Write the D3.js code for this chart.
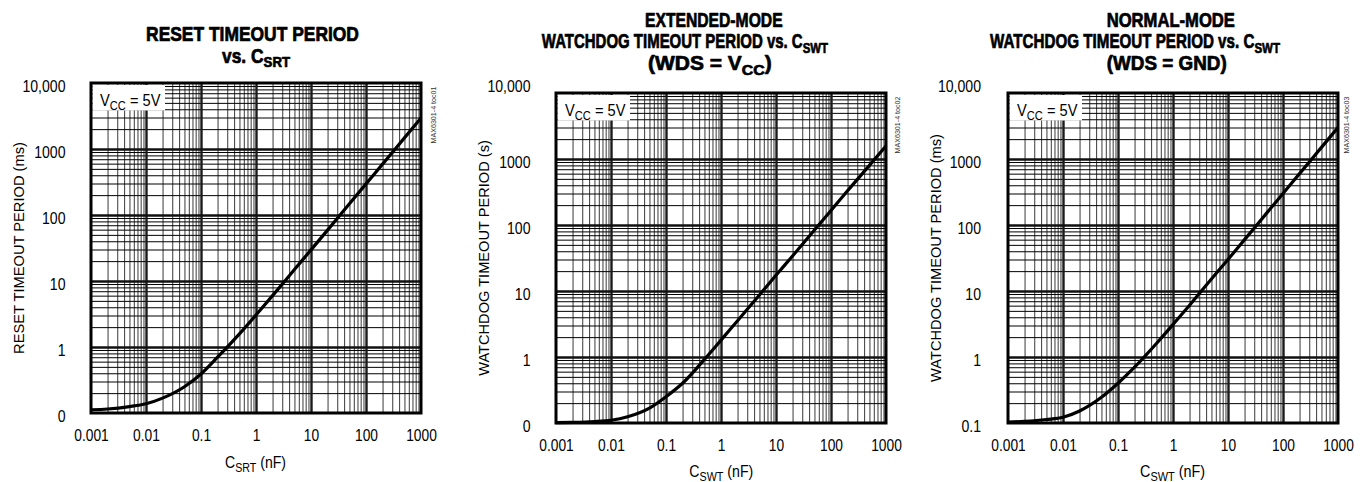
<!DOCTYPE html>
<html><head><meta charset="utf-8">
<script src="https://cdn.jsdelivr.net/npm/d3@7"></script>
<style>
html,body{margin:0;padding:0;background:#fff;}
svg{display:block;}
text{font-family:"Liberation Sans", Arial, sans-serif; fill:#000;}
</style></head><body>
<svg id="c" width="1362" height="482"></svg>
<script>
// ---------- data ----------
const capacitanceNF   = [0.001,0.002,0.005,0.01,0.02,0.05,0.1,0.2,0.5,1,2,5,10,20,50,100,200,500,1000];
const resetTimeoutMs  = [0.112,0.115,0.125,0.138,0.168,0.25,0.39,0.70,1.58,3.05,6.0,14.9,29.6,59,148,296,590,1475,2950];
const extWatchdogS    = [0.101,0.102,0.105,0.11,0.124,0.168,0.25,0.40,0.92,1.8,3.55,8.7,17.3,34,84,166,330,800,1580];
const normWatchdogMs  = [0.103,0.106,0.113,0.122,0.152,0.245,0.40,0.70,1.6,3.1,6.1,15.2,30,60,150,300,600,1500,3000];

const xTickValues = [0.001,0.01,0.1,1,10,100,1000];
const xTickLabels = ["0.001","0.01","0.1","1","10","100","1000"];
const yTickValues = [0.1,1,10,100,1000,10000];
const yTickLabelsZero  = ["0","1","10","100","1000","10,000"];
const yTickLabelsTenth = ["0.1","1","10","100","1000","10,000"];

// ---------- layout ----------
const panels = [
  { left:91, top:83, series:resetTimeoutMs, yLabels:yTickLabelsZero, yGap:25.5, topLabelBase:null,
    id:"MAX6301-4 toc01", idDx:12.5,
    titles:[
      {segs:[{t:"RESET TIMEOUT PERIOD"}], cx:252.5, y:40.7, w:213},
      {segs:[{t:"vs. C"},{t:"SRT",sub:true}], cx:256, y:62.7, w:68}
    ],
    yTitle:"RESET TIMEOUT PERIOD (ms)", yTitleX:23.5, yTitleLen:212,
    xTitle:[{t:"C"},{t:"SRT",sub:true},{t:" (nF)"}], xTitleCx:255.5, xTitleY:468, xTitleW:61 },
  { left:556, top:93, series:extWatchdogS, yLabels:yTickLabelsZero, yGap:25.5, topLabelBase:91.7,
    id:"MAX6301-4 toc02", idDx:11.5,
    titles:[
      {segs:[{t:"EXTENDED-MODE"}], cx:713.8, y:26.7, w:137.7},
      {segs:[{t:"WATCHDOG TIMEOUT PERIOD vs. C"},{t:"SWT",sub:true}], cx:684.9, y:48.3, w:286.3},
      {segs:[{t:"(WDS = V"},{t:"CC",sub:true},{t:")"}], cx:709.9, y:70, w:123.7}
    ],
    yTitle:"WATCHDOG TIMEOUT PERIOD (s)", yTitleX:489, yTitleLen:236,
    xTitle:[{t:"C"},{t:"SWT",sub:true},{t:" (nF)"}], xTitleCx:721.3, xTitleY:476.7, xTitleW:64 },
  { left:1008, top:93, series:normWatchdogMs, yLabels:yTickLabelsTenth, yGap:27, topLabelBase:91.7,
    id:"MAX6301-4 toc03", idDx:8.5,
    titles:[
      {segs:[{t:"NORMAL-MODE"}], cx:1170.8, y:26.7, w:128.3},
      {segs:[{t:"WATCHDOG TIMEOUT PERIOD vs. C"},{t:"SWT",sub:true}], cx:1135, y:48.3, w:290},
      {segs:[{t:"(WDS = GND)"}], cx:1166.7, y:70, w:120}
    ],
    yTitle:"WATCHDOG TIMEOUT PERIOD (ms)", yTitleX:941, yTitleLen:248,
    xTitle:[{t:"C"},{t:"SWT",sub:true},{t:" (nF)"}], xTitleCx:1172.5, xTitleY:476.7, xTitleW:65 }
];
const W = 330, H = 330;

const svg = d3.select("#c");

function fitText(parent, segs, o){
  const g = parent.append("g").attr("transform", `translate(${o.x},${o.y})` + (o.rotate ? ` rotate(${o.rotate})` : ""));
  const t = g.append("text").attr("text-anchor", o.anchor || "middle")
    .attr("font-size", o.size).attr("font-weight", o.weight || "normal");
  if (o.fill) t.style("fill", o.fill);
  if (o.stroke) t.style("stroke", "#000").style("stroke-width", o.stroke).style("stroke-linejoin", "round");
  let sub = false;
  const off = o.size * 0.24;
  segs.forEach(s => {
    const ts = t.append("tspan").text(s.t);
    if (s.sub && !sub) { ts.attr("font-size", o.size * 0.76).attr("dy", off); sub = true; }
    else if (!s.sub && sub) { ts.attr("dy", -off); sub = false; }
  });
  if (o.width) {
    const w = t.node().getBBox().width;
    t.attr("transform", `scale(${o.width / w},1)`);
  }
  return g;
}

function gridVals(lo, hi){
  const out = [];
  for (let n = lo; n < hi; n++) for (let k = 2; k <= 9; k++) out.push(+(k * Math.pow(10, n)).toPrecision(3));
  return out;
}

panels.forEach(p => {
  const L = p.left, T = p.top, R = L + W, B = T + H;
  const x = d3.scaleLog().domain([0.001, 1000]).range([L, R]);
  const y = d3.scaleLog().domain([0.1, 10000]).range([B, T]);
  const g = svg.append("g");

  // minor grid
  const vx = g.append("g").attr("transform", `translate(0,${B})`)
    .call(d3.axisBottom(x).tickValues(gridVals(-3, 3)).tickSize(-H).tickFormat(""));
  vx.select(".domain").remove();
  vx.selectAll("line").attr("stroke", "#3a3a3a").attr("stroke-width", 1);
  const hy = g.append("g").attr("transform", `translate(${L},0)`)
    .call(d3.axisLeft(y).tickValues(gridVals(-1, 4)).tickSize(-W).tickFormat(""));
  hy.select(".domain").remove();
  hy.selectAll("line").attr("stroke", "#000").attr("stroke-width", 1);

  // decade grid
  const dx = g.append("g").attr("transform", `translate(0,${B})`)
    .call(d3.axisBottom(x).tickValues(xTickValues.slice(1, -1)).tickSize(-H).tickFormat(""));
  dx.select(".domain").remove();
  dx.selectAll("line").attr("stroke", "#1a1a1a").attr("stroke-width", 2.4);
  const dy = g.append("g").attr("transform", `translate(${L},0)`)
    .call(d3.axisLeft(y).tickValues(yTickValues.slice(1, -1)).tickSize(-W).tickFormat(""));
  dy.select(".domain").remove();
  dy.selectAll("line").attr("stroke", "#111").attr("stroke-width", 2.4);

  // legend box
  g.append("rect").attr("x", L + 1.5).attr("y", T + 2).attr("width", 72.5).attr("height", 25.5).attr("fill", "#fff");
  fitText(g, [{t:"V"},{t:"CC",sub:true},{t:" = 5V"}], {x:L + 9, y:T + 23.3, size:17, anchor:"start", width:61});

  // curve
  const data = capacitanceNF.map((c, i) => [c, p.series[i]]);
  const line = d3.line().x(d => x(d[0])).y(d => y(d[1])).curve(d3.curveMonotoneX);
  g.append("path").datum(data).attr("d", line).attr("fill", "none").attr("stroke", "#000")
    .attr("stroke-width", 3.2).attr("stroke-linejoin", "round");

  // border
  g.append("rect").attr("x", L).attr("y", T).attr("width", W).attr("height", H)
    .attr("fill", "none").attr("stroke", "#000").attr("stroke-width", 3);

  // axes labels
  const ax = g.append("g").attr("transform", `translate(0,${B})`)
    .call(d3.axisBottom(x).tickValues(xTickValues).tickFormat((d, i) => xTickLabels[i]).tickSize(0).tickPadding(0));
  ax.select(".domain").remove();
  ax.attr("font-size", 16).attr("font-family", '"Liberation Sans", Arial, sans-serif');
  ax.selectAll("text").attr("dy", 0).attr("y", 28.3).each(function(){
    const w = this.getComputedTextLength();
    d3.select(this).attr("textLength", w * 0.86).attr("lengthAdjust", "spacingAndGlyphs");
  });

  const ay = g.append("g").attr("transform", `translate(${L},0)`)
    .call(d3.axisLeft(y).tickValues(yTickValues).tickFormat((d, i) => p.yLabels[i]).tickSize(0).tickPadding(p.yGap));
  ay.select(".domain").remove();
  ay.attr("font-size", 16).attr("font-family", '"Liberation Sans", Arial, sans-serif');
  ay.selectAll("text").attr("dy", 0).attr("y", d => (d === 10000 && p.topLabelBase !== null) ? p.topLabelBase - y(d) : 8)
    .each(function(){
      const w = this.getComputedTextLength();
      d3.select(this).attr("textLength", w * 0.88).attr("lengthAdjust", "spacingAndGlyphs");
    });

  // titles
  p.titles.forEach(tl => fitText(svg, tl.segs, {x:tl.cx, y:tl.y, size:19.5, weight:"bold", width:tl.w, stroke:0.7}));
  // axis titles
  fitText(svg, p.xTitle, {x:p.xTitleCx, y:p.xTitleY, size:16, width:p.xTitleW});
  fitText(svg, [{t:p.yTitle}], {x:p.yTitleX, y:T + H / 2, size:15, rotate:-90, width:p.yTitleLen});
  // figure id
  fitText(svg, [{t:p.id}], {x:R + p.idDx + 2.5, y:T + 32, size:7.5, rotate:-90, width:57, fill:"#333"});
});
</script>
</body></html>
